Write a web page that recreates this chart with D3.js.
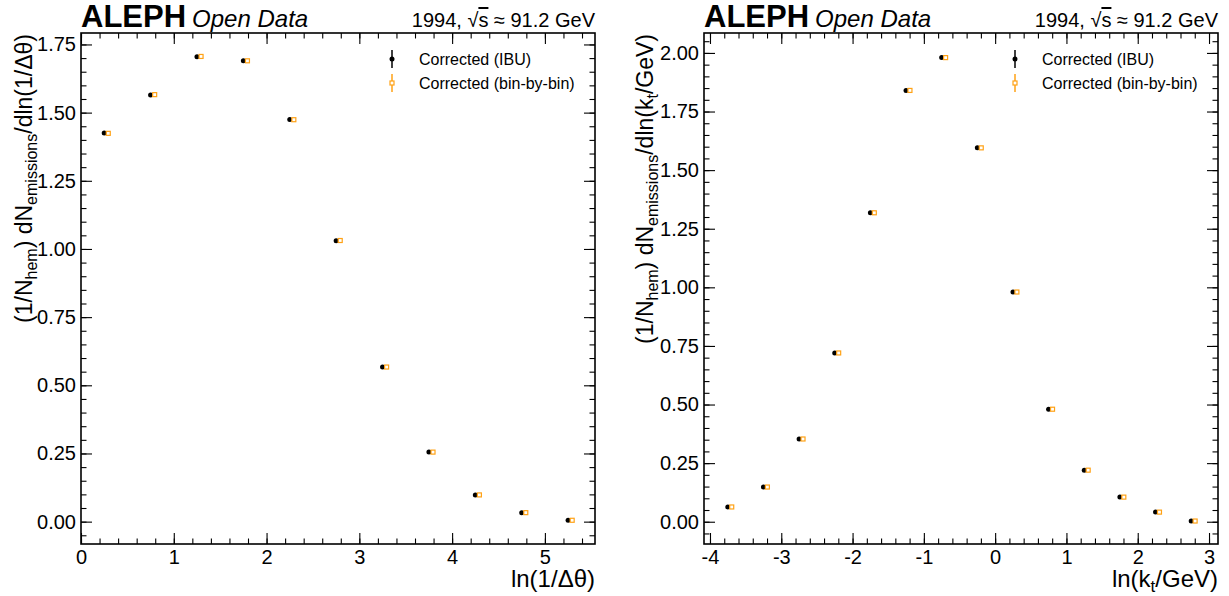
<!DOCTYPE html>
<html>
<head>
<meta charset="utf-8">
<script src="https://cdn.jsdelivr.net/npm/d3@7"></script>
<style>
  body { margin: 0; background: #fff; }
  svg text { font-family: "Liberation Sans", Arial, Helvetica, sans-serif; fill: #000; }
</style>
</head>
<body>
<div id="chart"></div>
<script>
// bin centres and values
var thetaX = [0.25, 0.75, 1.25, 1.75, 2.25, 2.75, 3.25, 3.75, 4.25, 4.75, 5.25];
var thetaIBU = [1.425, 1.565, 1.705, 1.690, 1.475, 1.030, 0.567, 0.255, 0.098, 0.033, 0.005];
var thetaBinByBin = [1.424, 1.566, 1.706, 1.690, 1.474, 1.031, 0.567, 0.255, 0.098, 0.033, 0.005];

var ktX = [-3.75, -3.25, -2.75, -2.25, -1.75, -1.25, -0.75, -0.25, 0.25, 0.75, 1.25, 1.75, 2.25, 2.75];
var ktIBU = [0.063, 0.148, 0.353, 0.720, 1.318, 1.840, 1.980, 1.595, 0.980, 0.480, 0.220, 0.105, 0.041, 0.003];
var ktBinByBin = [0.063, 0.148, 0.353, 0.720, 1.318, 1.840, 1.980, 1.595, 0.980, 0.480, 0.220, 0.105, 0.041, 0.003];

var legendLabels = ["Corrected (IBU)", "Corrected (bin-by-bin)"];
var orange = "#ffa216";

var svg = d3.select("#chart").append("svg")
  .attr("width", 1229)
  .attr("height", 596);

svg.append("rect").attr("width", 1229).attr("height", 596).attr("fill", "#fff");

var panels = [
  {
    left: 81, right: 595, top: 33, bottom: 544,
    xDomain: [0, 5.54], yDomain: [-0.082, 1.792],
    xMajor: d3.range(0, 6, 1), xMinor: d3.range(0, 5.6, 0.2),
    yMajor: d3.range(0, 1.76, 0.25), yMinor: d3.range(-0.05, 1.8, 0.05),
    x: thetaX, ibu: thetaIBU, bbb: thetaBinByBin, shift: 0.044,
    ylabelEnd: "/dln(1/Δθ)",
    xlabel: [["ln(1/Δθ)", false]],
    ylabelX: 32
  },
  {
    left: 704, right: 1218, top: 33, bottom: 544,
    xDomain: [-4.084, 3.126], yDomain: [-0.095, 2.085],
    xMajor: d3.range(-4, 4, 1), xMinor: d3.range(-4, 3.2, 0.2),
    yMajor: d3.range(0, 2.01, 0.25), yMinor: d3.range(-0.05, 2.1, 0.05),
    x: ktX, ibu: ktIBU, bbb: ktBinByBin, shift: 0.055,
    ylabelEnd: "/dln(k",
    xlabel: [["ln(k", false], ["t", true], ["/GeV)", false]],
    ylabelX: 653
  }
];

panels.forEach(function(p, idx) {
  var w = p.right - p.left;
  var h = p.bottom - p.top;
  var g = svg.append("g").attr("transform", "translate(" + p.left + "," + p.top + ")");

  var x = d3.scaleLinear().domain(p.xDomain).range([0, w]);
  var y = d3.scaleLinear().domain(p.yDomain).range([h, 0]);

  var inX = function(v) { return v >= p.xDomain[0] - 1e-9 && v <= p.xDomain[1] + 1e-9; };
  var inY = function(v) { return v >= p.yDomain[0] && v <= p.yDomain[1]; };
  var xMinor = p.xMinor.filter(inX);
  var yMinor = p.yMinor.filter(inY);

  // ticks on all four sides, pointing inward
  function axes(axisFn, scale, vals, size, withLabels, fmt, tr) {
    var a = axisFn(scale).tickValues(vals).tickSize(-size).tickPadding(8)
      .tickFormat(withLabels ? fmt : "");
    var ag = g.append("g").attr("transform", tr).call(a);
    ag.select(".domain").remove();
    ag.selectAll(".tick line").attr("stroke", "#000").attr("stroke-width", 1.1);
    return ag;
  }
  var xfmt = function(d) { return String(Math.round(d)); };
  var yfmt = d3.format(".2f");

  axes(d3.axisBottom, x, xMinor, 5.5, false, null, "translate(0," + h + ")");
  axes(d3.axisTop, x, xMinor, 5.5, false, null, "translate(0,0)");
  axes(d3.axisLeft, y, yMinor, 5.5, false, null, "translate(0,0)");
  axes(d3.axisRight, y, yMinor, 5.5, false, null, "translate(" + w + ",0)");

  var xb = axes(d3.axisBottom, x, p.xMajor, 11, true, xfmt, "translate(0," + h + ")");
  xb.selectAll(".tick text").attr("y", 20).attr("dy", null)
    .style("font-size", "20px").style("font-family", "Liberation Sans, Arial, sans-serif");
  axes(d3.axisTop, x, p.xMajor, 11, false, null, "translate(0,0)");
  var yl = axes(d3.axisLeft, y, p.yMajor, 11, true, yfmt, "translate(0,0)");
  yl.selectAll(".tick text").attr("x", -5)
    .style("font-size", "20px").style("font-family", "Liberation Sans, Arial, sans-serif");
  axes(d3.axisRight, y, p.yMajor, 11, false, null, "translate(" + w + ",0)");

  // frame
  g.append("rect").attr("width", w).attr("height", h)
    .attr("fill", "none").attr("stroke", "#000").attr("stroke-width", 1.6);

  // points: IBU black dots, bin-by-bin orange open squares (shifted a bit)
  g.selectAll(".ibu").data(p.x).enter().append("circle")
    .attr("class", "ibu")
    .attr("cx", function(d) { return x(d); })
    .attr("cy", function(d, i) { return y(p.ibu[i]); })
    .attr("r", 2.5)
    .attr("fill", "#000");

  g.selectAll(".bbb").data(p.x).enter().append("rect")
    .attr("class", "bbb")
    .attr("x", function(d) { return x(d + p.shift) - 2; })
    .attr("y", function(d, i) { return y(p.bbb[i]) - 2; })
    .attr("width", 4).attr("height", 4)
    .attr("fill", "#fff")
    .attr("stroke", orange).attr("stroke-width", 1.2);

  // legend
  var lx = w - 203;
  var rows = [26, 50];
  var lg = g.append("g");
  lg.append("line").attr("x1", lx).attr("x2", lx).attr("y1", rows[0] - 9).attr("y2", rows[0] + 9)
    .attr("stroke", "#000").attr("stroke-width", 1.5);
  lg.append("circle").attr("cx", lx).attr("cy", rows[0]).attr("r", 2.5).attr("fill", "#000");
  lg.append("line").attr("x1", lx).attr("x2", lx).attr("y1", rows[1] - 9).attr("y2", rows[1] + 9)
    .attr("stroke", orange).attr("stroke-width", 1.5);
  lg.append("rect").attr("x", lx - 2).attr("y", rows[1] - 2).attr("width", 4).attr("height", 4)
    .attr("fill", "#fff").attr("stroke", orange).attr("stroke-width", 1.2);
  legendLabels.forEach(function(t, i) {
    lg.append("text").attr("x", lx + 27).attr("y", rows[i]).attr("dy", "0.36em")
      .style("font-size", "16px").text(t);
  });

  // header
  var head = svg.append("text").attr("x", p.left).attr("y", 27);
  head.append("tspan").style("font-size", "31px").style("font-weight", "bold").text("ALEPH");
  head.append("tspan").attr("dx", 6).style("font-size", "24px").style("font-style", "italic").text("Open Data");

  var rt = svg.append("text").attr("x", p.right).attr("y", 27).attr("text-anchor", "end")
    .style("font-size", "20px");
  rt.append("tspan").text("1994, √");
  rt.append("tspan").style("text-decoration", "overline").text("s");
  rt.append("tspan").text(" ≈ 91.2 GeV");

  // y label
  var ylab = svg.append("text")
    .attr("transform", "translate(" + p.ylabelX + "," + (p.top + 1) + ") rotate(-90)")
    .attr("text-anchor", "end")
    .style("font-size", "23px");
  ylab.append("tspan").text("(1/N");
  ylab.append("tspan").attr("dy", 5).style("font-size", "16px").text("hem");
  ylab.append("tspan").attr("dy", -5).text(") dN");
  ylab.append("tspan").attr("dy", 5).style("font-size", "16px").text("emissions");
  ylab.append("tspan").attr("dy", -5).text(p.ylabelEnd);
  if (idx === 1) {
    ylab.append("tspan").attr("dy", 5).style("font-size", "16px").text("t");
    ylab.append("tspan").attr("dy", -5).text("/GeV)");
  }

  // x label
  var xlab = svg.append("text").attr("x", p.right).attr("y", 592)
    .attr("text-anchor", "end").style("font-size", "24px");
  p.xlabel.forEach(function(part) {
    if (part[1]) {
      xlab.append("tspan").attr("dy", 5).style("font-size", "17px").text(part[0]);
    } else {
      xlab.append("tspan").attr("dy", xlab.selectAll("tspan").size() ? -5 : 0).text(part[0]);
    }
  });
});
</script>
</body>
</html>
